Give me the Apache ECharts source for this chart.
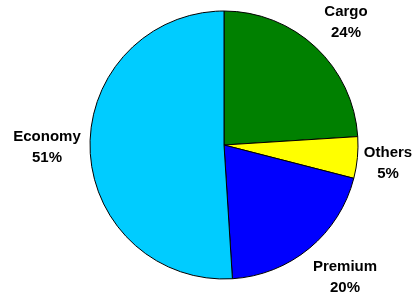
<!DOCTYPE html>
<html>
<head>
<meta charset="utf-8">
<script src="https://cdn.jsdelivr.net/npm/echarts@6/dist/echarts.min.js"></script>
<style>
	html,body{margin:0;padding:0;background:#fff}
	#main{width:417px;height:298px}
</style>
</head>
<body>
<div id="main"></div>
<script>
var categories = ['Cargo', 'Others', 'Premium', 'Economy'];
var shares = [24, 5, 20, 51];
var colors = ['#008000', '#FFFF00', '#0000FF', '#00CCFF'];
// label centre positions (px), same order as categories
var labelPos = [[346, 22], [388, 163], [345, 277], [47, 147]];

var myChart = echarts.init(document.getElementById('main'));
var option = {
	animation: false,
	series: [{
		type: 'pie',
		center: [224, 145],
		radius: 134,
		startAngle: 90,
		clockwise: true,
		avoidLabelOverlap: false,
		data: categories.map(function (c, i) {
			return { name: c, value: shares[i], itemStyle: { color: colors[i] } };
		}),
		itemStyle: { borderColor: '#000', borderWidth: 1 },
		label: {
			show: true,
			position: 'outside',
			formatter: '{b}\n{c}%',
			fontFamily: 'Liberation Sans, Arial, sans-serif',
			fontWeight: 'bold',
			fontSize: 15,
			lineHeight: 21,
			color: '#000',
			align: 'center',
			overflow: 'none',
			width: 120
		},
		labelLine: { show: false },
		labelLayout: function (p) {
			var pos = labelPos[p.dataIndex];
			return { x: pos[0], y: pos[1], align: 'center', verticalAlign: 'middle', hideOverlap: false, moveOverlap: null };
		},
		emphasis: { disabled: true }
	}]
};
myChart.setOption(option);
</script>
</body>
</html>
